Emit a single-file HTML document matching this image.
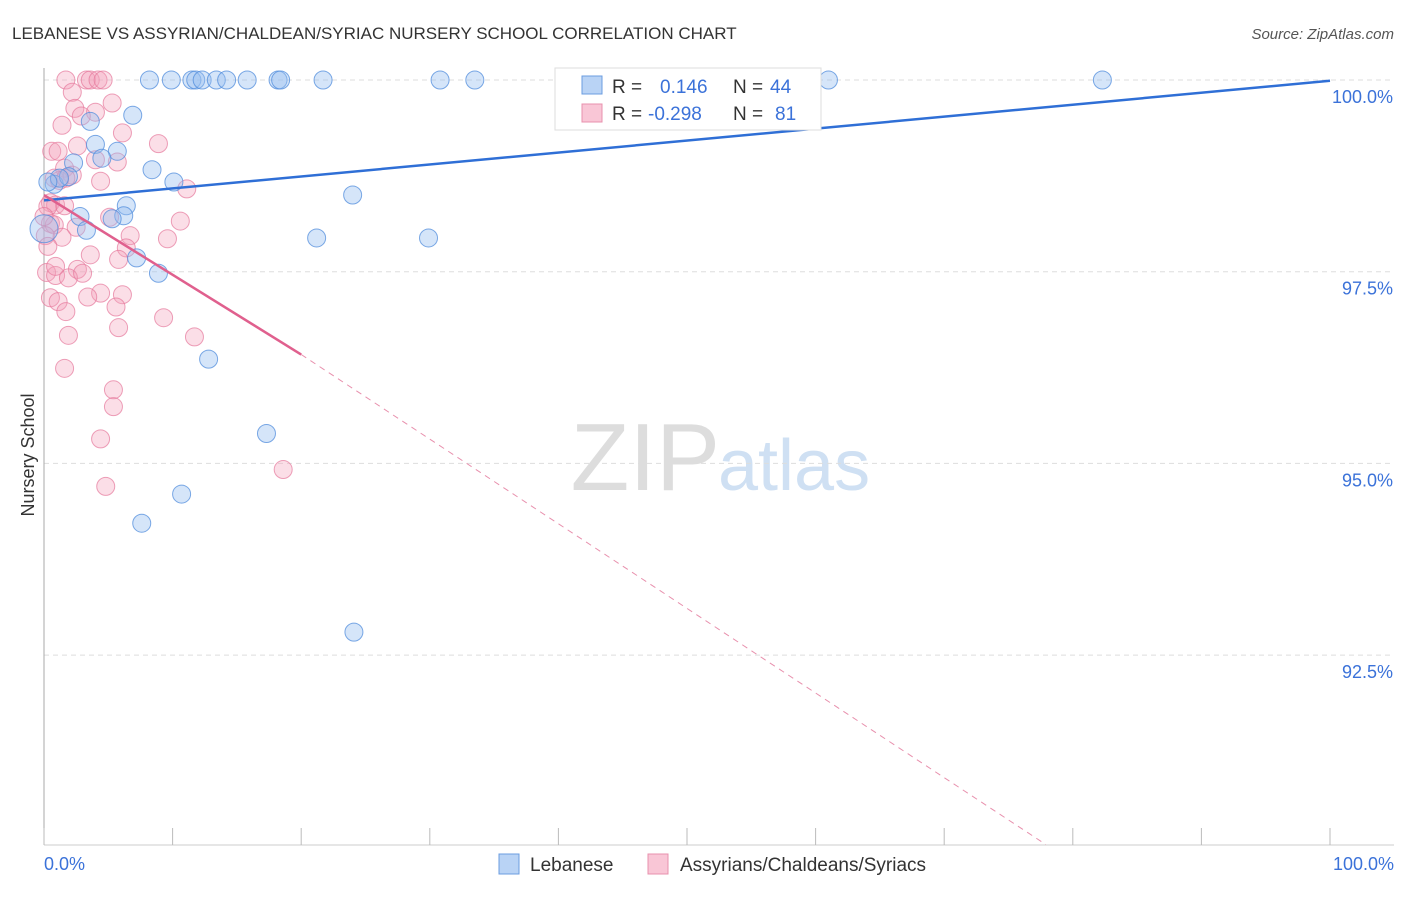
<!DOCTYPE html>
<html><head><meta charset="utf-8"><style>
body{margin:0;background:#fff;font-family:"Liberation Sans",sans-serif}
svg text{font-family:"Liberation Sans",sans-serif}
</style></head><body>
<svg width="1406" height="892" viewBox="0 0 1406 892">
<text x="12" y="39" font-size="17" fill="#333">LEBANESE VS ASSYRIAN/CHALDEAN/SYRIAC NURSERY SCHOOL CORRELATION CHART</text>
<text x="1394" y="39" font-size="15" fill="#555" text-anchor="end" font-style="italic">Source: ZipAtlas.com</text>
<text x="720" y="490" font-size="96" fill="#ddd" text-anchor="end" font-family="Liberation Serif">ZIP</text>
<text x="718" y="490" font-size="72" fill="#cfe0f3">atlas</text>
<g id="grid"></g>
<g id="axes"></g>
<g id="pts"></g>
<g id="trend"></g>
<text x="34" y="455" font-size="18" fill="#333" text-anchor="middle" transform="rotate(-90 34 455)">Nursery School</text>
<g>
<rect x="555" y="68" width="266" height="62" fill="#fff" stroke="#ddd"/>
<rect x="582" y="76" width="20" height="18" fill="#b9d3f5" stroke="#6b9de0"/>
<text x="612" y="93" font-size="19" fill="#333">R =</text><text x="660" y="93" font-size="19" fill="#3b72d9">0.146</text>
<text x="733" y="93" font-size="19" fill="#333">N =</text><text x="770" y="93" font-size="19" fill="#3b72d9">44</text>
<rect x="582" y="104" width="20" height="18" fill="#f9c6d6" stroke="#e890ad"/>
<text x="612" y="120" font-size="19" fill="#333">R =</text><text x="648" y="120" font-size="19" fill="#3b72d9">-0.298</text>
<text x="733" y="120" font-size="19" fill="#333">N =</text><text x="775" y="120" font-size="19" fill="#3b72d9">81</text>
</g>
<g>
<rect x="499" y="854" width="20" height="20" fill="#b9d3f5" stroke="#6b9de0"/>
<text x="530" y="871" font-size="19" fill="#333">Lebanese</text>
<rect x="648" y="854" width="20" height="20" fill="#f9c6d6" stroke="#e890ad"/>
<text x="680" y="871" font-size="19" fill="#333">Assyrians/Chaldeans/Syriacs</text>
</g>
</svg>
<script>
const yTicks=[100,97.5,95,92.5];
const yTickLabels=["100.0%","97.5%","95.0%","92.5%"];
const xLabels=["0.0%","100.0%"];
const blueX=[8.2,9.9,11.5,11.8,12.3,13.4,14.2,15.8,18.2,18.4,21.7,30.8,33.5,61,82.3,6.9,3.6,4.0,5.7,4.5,2.3,0.8,1.9,8.4,10.1,24,6.4,6.2,5.3,2.8,3.3,0,21.2,29.9,7.2,8.9,12.8,17.3,10.7,7.6,24.1,1.2,0.3];
const blueY=[100,100,100,100,100,100,100,100,100,100,100,100,100,100,100,99.54,99.46,99.16,99.07,98.98,98.92,98.64,98.74,98.83,98.67,98.5,98.36,98.23,98.19,98.22,98.04,98.06,97.94,97.94,97.68,97.48,96.36,95.39,94.6,94.22,92.8,98.72,98.67];
const pinkX=[1.7,3.3,3.6,4.2,4.6,2.2,5.3,2.4,4.0,2.9,1.4,6.1,2.6,8.9,0.6,1.1,5.7,4.0,1.6,2.2,0.8,1.2,1.7,4.4,11.1,0.5,0.9,1.6,5.1,10.6,0.5,0.8,2.5,6.7,9.6,1.4,0.1,3.6,6.4,5.8,2.6,0.2,0.9,1.9,3.0,4.4,6.1,3.4,0.5,1.1,5.6,1.7,9.3,5.8,11.7,1.9,1.6,5.4,5.4,4.4,18.6,4.8,0.3,0.9,0,0.3];
const pinkY=[100,100,100,100,100,99.84,99.7,99.63,99.58,99.53,99.41,99.31,99.14,99.17,99.07,99.07,98.93,98.96,98.85,98.76,98.72,98.69,98.72,98.68,98.58,98.4,98.37,98.36,98.21,98.16,98.13,98.11,98.08,97.97,97.93,97.95,97.97,97.72,97.81,97.66,97.53,97.49,97.45,97.42,97.48,97.22,97.2,97.17,97.16,97.11,97.04,96.98,96.9,96.77,96.65,96.67,96.24,95.96,95.74,95.32,94.92,94.7,98.35,97.57,98.22,97.83];
const NS='http://www.w3.org/2000/svg';
const xs=v=>44+v*12.86, ys=v=>80+(100-v)*76.68;
function mk(t,a,p){const e=document.createElementNS(NS,t);for(const k in a)e.setAttribute(k,a[k]);document.getElementById(p).appendChild(e);return e;}
yTicks.forEach((t,i)=>{
 const l=mk('line',{x1:44,x2:1394,y1:ys(t),y2:ys(t),stroke:'#ddd','stroke-dasharray':'5,4'},'grid');
 
 
 const tx=mk('text',{x:1393,y:ys(t)+23,'font-size':18,fill:'#3b72d9','text-anchor':'end'},'axes');tx.textContent=yTickLabels[i];
 
 
});
mk('line',{x1:44,x2:44,y1:68,y2:845,stroke:'#aaa'},'axes');
mk('line',{x1:44,x2:1394,y1:845,y2:845,stroke:'#ccc'},'axes');
for(let i=0;i<=10;i++){const t=mk('line',{x1:xs(i*10),x2:xs(i*10),y1:828,y2:845,stroke:'#bbb'},'axes');}
[[0,'start'],[100,'end']].forEach((d,i)=>{const t=mk('text',{x:d[0]?1394:44,y:870,'font-size':18,fill:'#3b72d9','text-anchor':d[1]},'axes');t.textContent=xLabels[i];
 
 });
pinkX.forEach((x,i)=>{const c=mk('circle',{cx:xs(x),cy:ys(pinkY[i]),r:9,fill:'rgba(244,160,186,0.35)',stroke:'rgba(230,120,155,0.7)'},'pts');
 
 });
blueX.forEach((x,i)=>{const c=mk('circle',{cx:xs(x),cy:ys(blueY[i]),r:i==31?14:9,fill:'rgba(150,190,240,0.4)',stroke:'rgba(80,140,220,0.75)'},'pts');
 
 });
const bl=mk('line',{x1:xs(0),y1:ys(98.43),x2:xs(100),y2:ys(99.99),stroke:'#2f6fd6','stroke-width':2.5},'trend');


const pl=mk('line',{x1:xs(0),y1:ys(98.5),x2:xs(20),y2:ys(96.42),stroke:'#e0608e','stroke-width':2.5},'trend');


const pd=mk('line',{x1:xs(20),y1:ys(96.42),x2:xs(77.9),y2:ys(90.03),stroke:'#e890ad','stroke-width':1,'stroke-dasharray':'6,5'},'trend');


</script>
</body></html>
